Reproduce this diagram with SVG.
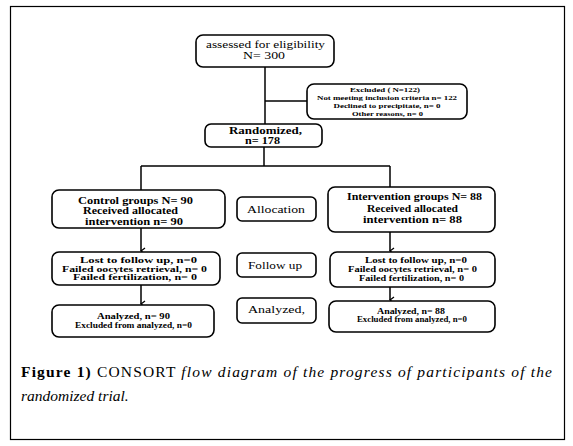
<svg xmlns="http://www.w3.org/2000/svg" width="573" height="446" viewBox="0 0 573 446">
<style>
.box{fill:#fff;stroke:#000;stroke-width:1.6}
.ln{fill:none;stroke:#000;stroke-width:1.5}
text{font-family:"Liberation Serif","DejaVu Serif","Times New Roman",serif;fill:#000;text-anchor:middle}
.b{font-weight:bold}
.cap{font-size:15.5px;text-anchor:start}
</style>
<defs>
<marker id="arr" markerUnits="userSpaceOnUse" markerWidth="8" markerHeight="8" refX="4" refY="7" viewBox="0 0 8 8" orient="auto-start-reverse">
<path d="M1,3 L4,7 L7,3" fill="none" stroke="#000" stroke-width="1.3"/>
</marker>
</defs>
<rect x="10.5" y="6.5" width="554" height="433" fill="#fff" stroke="#000" stroke-width="1.2"/>
<g id="connectors">
<path class="ln" d="M265,67 V124"/>
<path class="ln" d="M265,101 H307"/>
<path class="ln" d="M264,147 V166"/>
<path class="ln" d="M141,166 H390"/>
<path class="ln" d="M141,166 V190"/>
<path class="ln" d="M390,166 V187"/>
<path class="ln" d="M141,228 V251" marker-end="url(#arr)"/>
<path class="ln" d="M141,285 V304" marker-end="url(#arr)"/>
<path class="ln" d="M390,232 V251" marker-end="url(#arr)"/>
<path class="ln" d="M390,287 V300" marker-end="url(#arr)"/>
</g>
<g id="assessed">
<rect class="box" x="196" y="35" width="138" height="32" rx="7"/>
<text x="265.5" y="48" font-size="10.5" textLength="119" lengthAdjust="spacingAndGlyphs">assessed for eligibility</text>
<text x="264" y="58.5" font-size="10.5" textLength="42" lengthAdjust="spacingAndGlyphs">N= 300</text>
</g>
<g id="excluded">
<rect class="box" x="307" y="84" width="160" height="35" rx="7"/>
<text class="b" x="385" y="91.5" font-size="7" textLength="70" lengthAdjust="spacingAndGlyphs">Excluded ( N=122)</text>
<text class="b" x="387" y="99.5" font-size="7" textLength="140" lengthAdjust="spacingAndGlyphs">Not meeting inclusion criteria n= 122</text>
<text class="b" x="387" y="107.5" font-size="7" textLength="107" lengthAdjust="spacingAndGlyphs">Declined to precipitate, n= 0</text>
<text class="b" x="387.5" y="115.5" font-size="7" textLength="71" lengthAdjust="spacingAndGlyphs">Other reasons, n= 0</text>
</g>
<g id="randomized">
<rect class="box" x="205" y="124" width="117" height="23" rx="6"/>
<text class="b" x="265.5" y="133.5" font-size="10" textLength="73" lengthAdjust="spacingAndGlyphs">Randomized,</text>
<text class="b" x="262.5" y="144" font-size="10" textLength="35" lengthAdjust="spacingAndGlyphs">n= 178</text>
</g>
<g id="control">
<rect class="box" x="52" y="190" width="173" height="38" rx="7"/>
<text class="b" x="135.5" y="203.5" font-size="9.5" textLength="115" lengthAdjust="spacingAndGlyphs">Control groups  N= 90</text>
<text class="b" x="130.5" y="214" font-size="9.5" textLength="95" lengthAdjust="spacingAndGlyphs">Received allocated</text>
<text class="b" x="134" y="224.5" font-size="9.5" textLength="98" lengthAdjust="spacingAndGlyphs">intervention  n= 90</text>
</g>
<g id="intervention">
<rect class="box" x="328" y="187" width="167" height="45" rx="7"/>
<text class="b" x="414.5" y="199.5" font-size="9.5" textLength="135" lengthAdjust="spacingAndGlyphs">Intervention groups N= 88</text>
<text class="b" x="412.5" y="211.5" font-size="9.5" textLength="91" lengthAdjust="spacingAndGlyphs">Received allocated</text>
<text class="b" x="412.5" y="223" font-size="9.5" textLength="99" lengthAdjust="spacingAndGlyphs">intervention  n= 88</text>
</g>
<g id="allocation">
<rect class="box" x="237" y="197" width="79" height="24" rx="5"/>
<text x="276" y="212.5" font-size="10.5" textLength="58" lengthAdjust="spacingAndGlyphs">Allocation</text>
</g>
<g id="control-followup">
<rect class="box" x="52" y="252" width="168" height="33" rx="7"/>
<text class="b" x="138.5" y="263" font-size="8" textLength="117" lengthAdjust="spacingAndGlyphs">Lost to follow up, n=0</text>
<text class="b" x="134.5" y="271.5" font-size="8" textLength="145" lengthAdjust="spacingAndGlyphs">Failed oocytes retrieval, n= 0</text>
<text class="b" x="135" y="280" font-size="8" textLength="124" lengthAdjust="spacingAndGlyphs">Failed fertilization, n= 0</text>
</g>
<g id="intervention-followup">
<rect class="box" x="330" y="252" width="165" height="35" rx="7"/>
<text class="b" x="416" y="262.5" font-size="7.8" textLength="102" lengthAdjust="spacingAndGlyphs">Lost to follow up, n=0</text>
<text class="b" x="412.5" y="271.5" font-size="7.8" textLength="129" lengthAdjust="spacingAndGlyphs">Failed oocytes retrieval, n= 0</text>
<text class="b" x="411.5" y="281" font-size="7.8" textLength="105" lengthAdjust="spacingAndGlyphs">Failed fertilization, n= 0</text>
</g>
<g id="followup">
<rect class="box" x="237" y="253" width="79" height="24" rx="5"/>
<text x="275" y="268.5" font-size="10.5" textLength="54" lengthAdjust="spacingAndGlyphs">Follow up</text>
</g>
<g id="control-analyzed">
<rect class="box" x="52" y="305" width="162" height="32" rx="7"/>
<text class="b" x="133.5" y="319" font-size="7.5" textLength="73" lengthAdjust="spacingAndGlyphs">Analyzed, n=  90</text>
<text class="b" x="133.5" y="327.5" font-size="7.5" textLength="117" lengthAdjust="spacingAndGlyphs">Excluded from analyzed, n=0</text>
</g>
<g id="intervention-analyzed">
<rect class="box" x="329" y="301" width="166" height="31" rx="7"/>
<text class="b" x="411" y="313.5" font-size="7.5" textLength="68" lengthAdjust="spacingAndGlyphs">Analyzed, n= 88</text>
<text class="b" x="412" y="321.5" font-size="7.5" textLength="110" lengthAdjust="spacingAndGlyphs">Excluded from analyzed, n=0</text>
</g>
<g id="analyzed">
<rect class="box" x="237" y="298" width="79" height="25" rx="5"/>
<text x="276.5" y="312.5" font-size="10.5" textLength="57" lengthAdjust="spacingAndGlyphs">Analyzed,</text>
</g>
<g id="caption">
<text class="cap" x="21" y="377" textLength="531" lengthAdjust="spacing"><tspan font-weight="bold">Figure 1)</tspan> CONSORT <tspan font-style="italic">flow diagram of the progress of participants of the</tspan></text>
<text class="cap" x="21" y="401" font-style="italic">randomized trial.</text>
</g>
</svg>
